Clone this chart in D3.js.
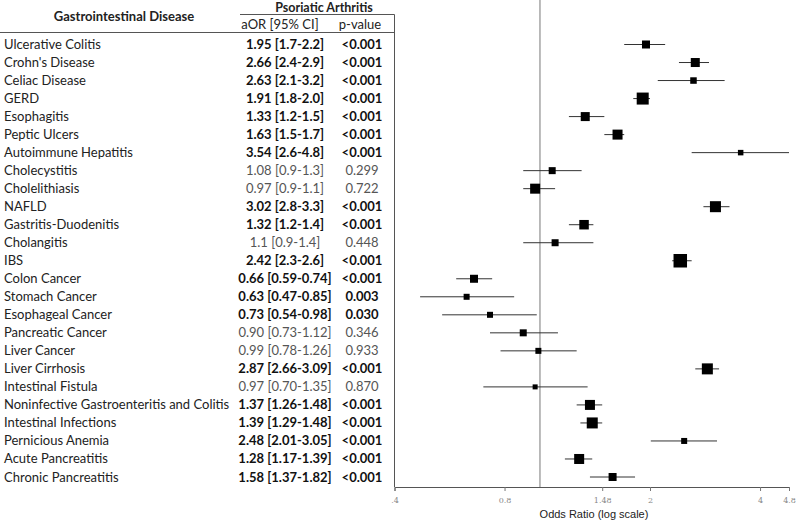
<!DOCTYPE html>
<html>
<head>
<meta charset="utf-8">
<script src="https://cdn.jsdelivr.net/npm/d3@7"></script>
<style>
  body { margin: 0; background: #fff; }
  svg { display: block; }
  .tbl { font-family: Lato, "Open Sans", sans-serif; font-size: 13px; fill: #222; }
</style>
</head>
<body>
<div id="chart"></div>
<script>
// rows, top to bottom
const categories = [
  "Ulcerative Colitis", "Crohn's Disease", "Celiac Disease", "GERD", "Esophagitis",
  "Peptic Ulcers", "Autoimmune Hepatitis", "Cholecystitis", "Cholelithiasis", "NAFLD",
  "Gastritis-Duodenitis", "Cholangitis", "IBS", "Colon Cancer", "Stomach Cancer",
  "Esophageal Cancer", "Pancreatic Cancer", "Liver Cancer", "Liver Cirrhosis", "Intestinal Fistula",
  "Noninfective Gastroenteritis and Colitis", "Intestinal Infections", "Pernicious Anemia",
  "Acute Pancreatitis", "Chronic Pancreatitis"
];
const aor = [1.95, 2.66, 2.63, 1.91, 1.33, 1.63, 3.54, 1.08, 0.97, 3.02, 1.32, 1.1, 2.42,
  0.66, 0.63, 0.73, 0.90, 0.99, 2.87, 0.97, 1.37, 1.39, 2.48, 1.28, 1.58];
const ciLow = [1.7, 2.4, 2.1, 1.8, 1.2, 1.5, 2.6, 0.9, 0.9, 2.8, 1.2, 0.9, 2.3,
  0.59, 0.47, 0.54, 0.73, 0.78, 2.66, 0.70, 1.26, 1.29, 2.01, 1.17, 1.37];
const ciHigh = [2.2, 2.9, 3.2, 2.0, 1.5, 1.7, 4.8, 1.3, 1.1, 3.3, 1.4, 1.4, 2.6,
  0.74, 0.85, 0.98, 1.12, 1.26, 3.09, 1.35, 1.48, 1.48, 3.05, 1.39, 1.82];
const aorLabels = [
  "1.95 [1.7-2.2]", "2.66 [2.4-2.9]", "2.63 [2.1-3.2]", "1.91 [1.8-2.0]", "1.33 [1.2-1.5]",
  "1.63 [1.5-1.7]", "3.54 [2.6-4.8]", "1.08 [0.9-1.3]", "0.97 [0.9-1.1]", "3.02 [2.8-3.3]",
  "1.32 [1.2-1.4]", "1.1 [0.9-1.4]", "2.42 [2.3-2.6]", "0.66 [0.59-0.74]", "0.63 [0.47-0.85]",
  "0.73 [0.54-0.98]", "0.90 [0.73-1.12]", "0.99 [0.78-1.26]", "2.87 [2.66-3.09]", "0.97 [0.70-1.35]",
  "1.37 [1.26-1.48]", "1.39 [1.29-1.48]", "2.48 [2.01-3.05]", "1.28 [1.17-1.39]", "1.58 [1.37-1.82]"
];
const pValues = ["<0.001", "<0.001", "<0.001", "<0.001", "<0.001", "<0.001", "<0.001", "0.299",
  "0.722", "<0.001", "<0.001", "0.448", "<0.001", "<0.001", "0.003", "0.030", "0.346", "0.933",
  "<0.001", "0.870", "<0.001", "<0.001", "<0.001", "<0.001", "<0.001"];
// relative weight of each estimate (box size)
const weights = [8, 9, 6.5, 12, 9, 10, 5.5, 7, 10, 11, 9.5, 7, 13.5, 8, 6, 6, 7, 6, 11, 5, 10, 11, 6, 10, 8];
const tickValues = [0.4, 0.8, 1.48, 2, 4, 4.8];
const tickLabels = [".4", "0.8", "1.48", "2", "4", "4.8"];

const width = 800, height = 523;
const rows = categories.map((c, i) => ({
  name: c, or: aor[i], lo: ciLow[i], hi: ciHigh[i], label: aorLabels[i], p: pValues[i],
  w: weights[i], sig: pValues[i].startsWith("<") || +pValues[i] < 0.05
}));

const svg = d3.select("#chart").append("svg")
  .attr("width", width).attr("height", height);

const y = d3.scalePoint().domain(categories).range([44.5, 477]);
const x = d3.scaleLog().domain([0.4, 4.8]).range([394.5, 789]);
const box = d3.scaleLinear().domain([0, d3.max(weights)]).range([0, 13.5]);

// table header
svg.append("text").attr("class", "tbl").attr("x", 124).attr("y", 21)
  .attr("text-anchor", "middle").style("font-weight", "bold").text("Gastrointestinal Disease");
svg.append("text").attr("class", "tbl").attr("x", 324).attr("y", 11.5)
  .attr("text-anchor", "middle").style("font-weight", "bold").style("font-size", "12.5px")
  .text("Psoriatic Arthritis");
svg.append("text").attr("class", "tbl").attr("x", 280).attr("y", 29)
  .attr("text-anchor", "middle").text("aOR [95% CI]");
svg.append("text").attr("class", "tbl").attr("x", 360).attr("y", 29)
  .attr("text-anchor", "middle").text("p-value");

svg.append("line").attr("x1", 240).attr("x2", 394.5).attr("y1", 14.5).attr("y2", 14.5)
  .attr("stroke", "#555");
svg.append("line").attr("x1", 0).attr("x2", 394.5).attr("y1", 32.5).attr("y2", 32.5)
  .attr("stroke", "#555");
svg.append("line").attr("x1", 394.5).attr("x2", 394.5).attr("y1", 14.5).attr("y2", 487)
  .attr("stroke", "#555");

// table rows
const tr = svg.selectAll(".row").data(rows).enter().append("g")
  .attr("transform", d => `translate(0,${y(d.name) + 4.5})`);
tr.append("text").attr("class", "tbl").attr("x", 4).text(d => d.name);
tr.append("text").attr("class", "tbl").attr("x", 285).attr("text-anchor", "middle")
  .style("font-weight", d => d.sig ? "bold" : "normal")
  .style("fill", d => d.sig ? "#111" : "#555")
  .text(d => d.label);
tr.append("text").attr("class", "tbl").attr("x", 362).attr("text-anchor", "middle")
  .style("font-weight", d => d.sig ? "bold" : "normal")
  .style("fill", d => d.sig ? "#111" : "#555")
  .text(d => d.p);

// reference line at OR = 1
svg.append("line").attr("x1", x(1)).attr("x2", x(1)).attr("y1", 0).attr("y2", 487)
  .attr("stroke", "#777");

// CI lines and boxes
svg.selectAll(".ci").data(rows).enter().append("line")
  .attr("x1", d => x(d.lo)).attr("x2", d => x(d.hi))
  .attr("y1", d => y(d.name)).attr("y2", d => y(d.name))
  .attr("stroke", "#333").attr("stroke-width", 1);

svg.selectAll(".box").data(rows).enter().append("rect")
  .attr("x", d => x(d.or) - box(d.w) / 2)
  .attr("y", d => y(d.name) - box(d.w) / 2)
  .attr("width", d => box(d.w)).attr("height", d => box(d.w))
  .attr("fill", "#000");

// x axis
const ax = svg.append("g").attr("transform", "translate(0,487)")
  .call(d3.axisBottom(x).tickValues(tickValues)
    .tickFormat((d, i) => tickLabels[i]).tickSize(4).tickPadding(6));
ax.select(".domain").attr("stroke", "#555");
ax.selectAll(".tick line").attr("stroke", "#777");
ax.selectAll(".tick text").attr("fill", "#888")
  .style("font-family", "'DejaVu Serif', serif").style("font-size", "8px");

svg.append("text").attr("x", 594).attr("y", 518).attr("text-anchor", "middle")
  .style("font-family", "'Liberation Sans', Arial, sans-serif").style("font-size", "11px")
  .attr("fill", "#222").text("Odds Ratio (log scale)");
</script>
</body>
</html>
